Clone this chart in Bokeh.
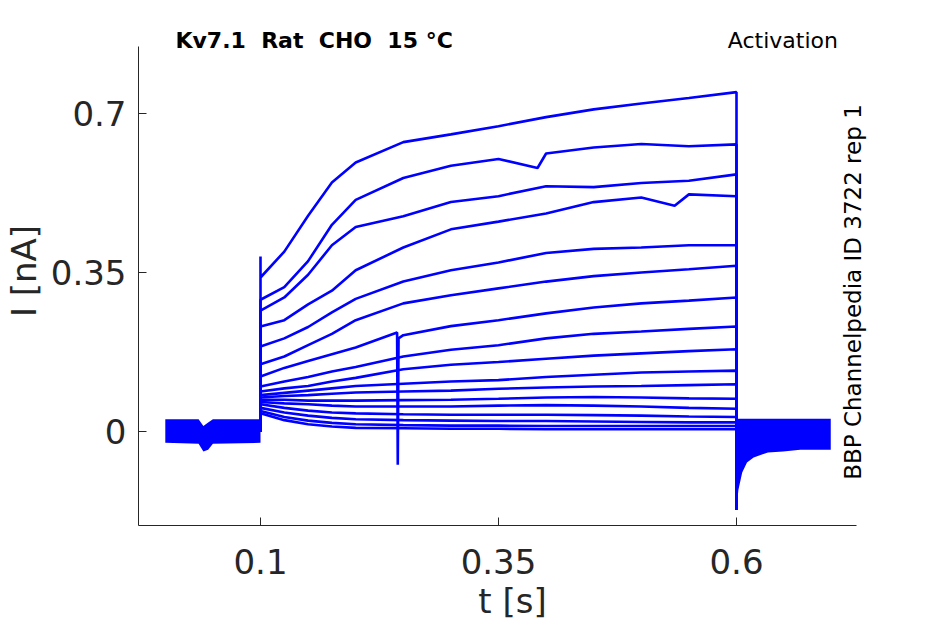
import math
from bokeh.plotting import figure
from bokeh.models import Range1d, Label, FixedTicker, CustomJSTickFormatter
from bokeh.embed import file_html
from bokeh.resources import INLINE

# ---------------- data ----------------
X_TICKS = [0.1, 0.35, 0.6]
Y_TICKS = [0.0, 0.35, 0.7]
X_AXIS_SPAN = (-0.02815, 0.72605)   # visible extent of the t axis line
Y_AXIS_SPAN = (-0.2069, 0.8475)     # visible extent of the I axis line

# sample times during the voltage step [s]
STEP_T = [0.1, 0.125, 0.15, 0.175, 0.2, 0.25, 0.3, 0.35, 0.4, 0.45, 0.5, 0.55, 0.6]

# current traces [nA], top to bottom
I01 = [0.339, 0.396, 0.475, 0.548, 0.592, 0.637, 0.654, 0.672, 0.692, 0.709, 0.722, 0.734, 0.747]
I02 = [0.290, 0.318, 0.375, 0.455, 0.510, 0.558, 0.585, 0.600, 0.612, 0.625, 0.633, 0.628, 0.632]
I03 = [0.266, 0.295, 0.345, 0.410, 0.450, 0.474, 0.505, 0.518, 0.540, 0.538, 0.547, 0.552, 0.566]
I04 = [0.231, 0.245, 0.280, 0.310, 0.355, 0.405, 0.445, 0.462, 0.480, 0.505, 0.515, 0.522, 0.518]
I05 = [0.187, 0.205, 0.230, 0.262, 0.292, 0.330, 0.355, 0.372, 0.393, 0.402, 0.405, 0.410, 0.410]
I06 = [0.148, 0.165, 0.190, 0.215, 0.245, 0.282, 0.300, 0.315, 0.330, 0.342, 0.350, 0.357, 0.365]
I07 = [0.121, 0.140, 0.155, 0.170, 0.185, 0.212, 0.232, 0.245, 0.260, 0.273, 0.282, 0.288, 0.295]
I08 = [0.099, 0.110, 0.120, 0.132, 0.142, 0.165, 0.180, 0.190, 0.205, 0.215, 0.220, 0.226, 0.231]
I09 = [0.088, 0.095, 0.100, 0.110, 0.118, 0.137, 0.147, 0.153, 0.160, 0.167, 0.172, 0.177, 0.181]
I10 = [0.080, 0.085, 0.090, 0.095, 0.100, 0.105, 0.110, 0.113, 0.120, 0.125, 0.130, 0.132, 0.134]
I11 = [0.075, 0.078, 0.080, 0.083, 0.086, 0.088, 0.090, 0.094, 0.097, 0.099, 0.100, 0.102, 0.104]
I12 = [0.070, 0.070, 0.068, 0.068, 0.068, 0.069, 0.070, 0.072, 0.075, 0.076, 0.075, 0.073, 0.072]
I13 = [0.065, 0.062, 0.060, 0.057, 0.055, 0.055, 0.055, 0.057, 0.058, 0.057, 0.055, 0.052, 0.050]
I14 = [0.060, 0.052, 0.046, 0.042, 0.040, 0.038, 0.037, 0.037, 0.037, 0.036, 0.035, 0.033, 0.032]
I15 = [0.052, 0.042, 0.035, 0.030, 0.027, 0.025, 0.024, 0.023, 0.023, 0.022, 0.021, 0.020, 0.020]
I16 = [0.045, 0.032, 0.024, 0.019, 0.016, 0.014, 0.013, 0.013, 0.012, 0.012, 0.012, 0.012, 0.012]
I17 = [0.040, 0.025, 0.016, 0.011, 0.008, 0.007, 0.006, 0.006, 0.005, 0.005, 0.005, 0.005, 0.005]
TRACES = [I01, I02, I03, I04, I05, I06, I07, I08, I09, I10, I11, I12, I13, I14, I15, I16, I17]

BASE = 0.0            # holding current level
ONSET_PEAK_01 = 0.385 # capacitive spike of the top trace at t = 0.1

# isolated features inside the step (trace index, time, current)
EXTRA_TRACE = [6, 6, 6, 1, 3]
EXTRA_T = [0.2435, 0.2442, 0.2450, 0.391, 0.535]
EXTRA_I = [0.218, -0.073, 0.205, 0.580, 0.497]

# noise envelope before the step
PRE_T = [0.0, 0.035, 0.040, 0.045, 0.050, 0.1]
PRE_LO = [-0.025, -0.027, -0.044, -0.040, -0.027, -0.025]
PRE_HI = [0.027, 0.027, 0.012, 0.020, 0.027, 0.027]

# envelope of the tail currents after the step
POST_T = [0.6, 0.602, 0.606, 0.611, 0.618, 0.633, 0.649, 0.667, 0.699]
POST_LO = [-0.172, -0.128, -0.090, -0.068, -0.057, -0.046, -0.044, -0.040, -0.040]
POST_HI = [0.028, 0.028, 0.028, 0.028, 0.028, 0.028, 0.028, 0.028, 0.028]

TITLE = "Kv7.1 \u00a0Rat \u00a0CHO \u00a015 \u00b0C"
RIGHT_TITLE = "Activation"
SIDE_TEXT = "BBP Channelpedia ID 3722 rep 1"

# ---------------- figure ----------------
BLUE = "#0000ff"
INK = "#262626"
FONT = "DejaVu Sans"

p = figure(frame_width=748, frame_height=509,
           x_range=Range1d(-0.02815, 0.75756), y_range=Range1d(-0.2069, 0.9135),
           min_border_left=126, min_border_top=16, min_border_right=10, min_border_bottom=0,
           output_backend="svg", toolbar_location=None)
p.outline_line_color = None
p.grid.visible = False
p.background_fill_color = "white"
p.border_fill_color = "white"

p.varea(x=PRE_T, y1=PRE_LO, y2=PRE_HI, fill_color=BLUE)
p.varea(x=POST_T, y1=POST_LO, y2=POST_HI, fill_color=BLUE)

for k, vals in enumerate(TRACES):
    pts = list(zip(STEP_T, vals))
    for tr, t, v in zip(EXTRA_TRACE, EXTRA_T, EXTRA_I):
        if tr == k:
            pts.append((t, v))
    pts.sort(key=lambda q: q[0])
    xs = [STEP_T[0]] + [q[0] for q in pts] + [STEP_T[-1]]
    ys = [BASE] + [q[1] for q in pts] + [POST_LO[0]]
    if k == 0:
        xs = [STEP_T[0]] + xs
        ys = [BASE, ONSET_PEAK_01] + ys[1:]
    p.line(xs, ys, line_color=BLUE, line_width=2.6)

fmt = CustomJSTickFormatter(code="return String(Number(tick.toFixed(6)));")
p.xaxis.ticker = FixedTicker(ticks=X_TICKS)
p.yaxis.ticker = FixedTicker(ticks=Y_TICKS)
p.xaxis.formatter = fmt
p.yaxis.formatter = fmt
p.xaxis.bounds = X_AXIS_SPAN
p.yaxis.bounds = Y_AXIS_SPAN
p.xaxis.axis_label = "t [s]"
p.yaxis.axis_label = "I [nA]"
for ax in (p.xaxis, p.yaxis):
    ax.major_tick_in = 8
    ax.major_tick_out = 0
    ax.minor_tick_line_color = None
    ax.axis_line_color = INK
    ax.major_tick_line_color = INK
    ax.major_label_text_font = FONT
    ax.major_label_text_font_size = "34px"
    ax.major_label_text_color = INK
    ax.axis_label_text_font = FONT
    ax.axis_label_text_font_size = "34px"
    ax.axis_label_text_font_style = "normal"
    ax.axis_label_text_color = INK
p.xaxis.major_label_standoff = 23
p.yaxis.major_label_standoff = 12
p.xaxis.axis_label_standoff = 4
p.yaxis.axis_label_standoff = 4

p.add_layout(Label(x=0.0107, y=0.8607, text=TITLE, text_font=FONT, text_font_size="22px",
                   text_font_style="bold", text_color="black", text_baseline="alphabetic"))
p.add_layout(Label(x=0.7066, y=0.8607, text=RIGHT_TITLE, text_font=FONT, text_font_size="22px",
                   text_color="black", text_align="right", text_baseline="alphabetic"))
p.add_layout(Label(x=0.7219, y=0.307, text=SIDE_TEXT, text_font=FONT, text_font_size="23px",
                   text_color="black", text_align="center", text_baseline="alphabetic",
                   angle=math.pi / 2))

open("out.html", "w").write(file_html(p, INLINE))
